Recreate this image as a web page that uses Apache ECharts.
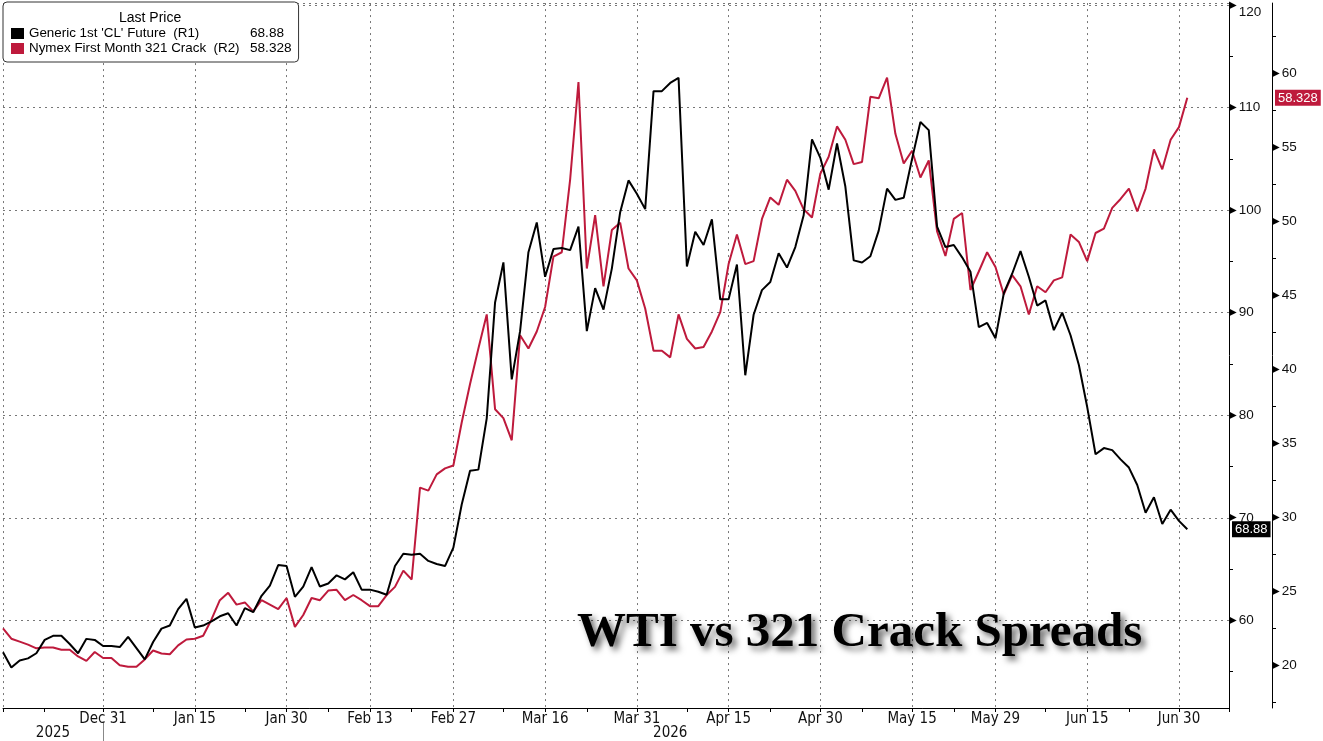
<!DOCTYPE html>
<html><head><meta charset="utf-8">
<script src="https://cdn.jsdelivr.net/npm/echarts@6/dist/echarts.min.js"></script>
<style>html,body{margin:0;padding:0;background:#fff}#c{width:1323px;height:741px}</style>
</head><body><div id="c"></div>
<script>
// Trading-day categories (weekdays)
const categories = [
'2025-12-15','2025-12-16','2025-12-17','2025-12-18','2025-12-19','2025-12-22','2025-12-23','2025-12-24','2025-12-25','2025-12-26','2025-12-29','2025-12-30','2025-12-31',
'2026-01-01','2026-01-02','2026-01-05','2026-01-06','2026-01-07','2026-01-08','2026-01-09','2026-01-12','2026-01-13','2026-01-14','2026-01-15','2026-01-16','2026-01-19','2026-01-20','2026-01-21','2026-01-22','2026-01-23','2026-01-26','2026-01-27','2026-01-28','2026-01-29','2026-01-30',
'2026-02-02','2026-02-03','2026-02-04','2026-02-05','2026-02-06','2026-02-09','2026-02-10','2026-02-11','2026-02-12','2026-02-13','2026-02-16','2026-02-17','2026-02-18','2026-02-19','2026-02-20','2026-02-23','2026-02-24','2026-02-25','2026-02-26','2026-02-27',
'2026-03-02','2026-03-03','2026-03-04','2026-03-05','2026-03-06','2026-03-09','2026-03-10','2026-03-11','2026-03-12','2026-03-13','2026-03-16','2026-03-17','2026-03-18','2026-03-19','2026-03-20','2026-03-23','2026-03-24','2026-03-25','2026-03-26','2026-03-27','2026-03-30','2026-03-31',
'2026-04-01','2026-04-02','2026-04-03','2026-04-06','2026-04-07','2026-04-08','2026-04-09','2026-04-10','2026-04-13','2026-04-14','2026-04-15','2026-04-16','2026-04-17','2026-04-20','2026-04-21','2026-04-22','2026-04-23','2026-04-24','2026-04-27','2026-04-28','2026-04-29','2026-04-30',
'2026-05-01','2026-05-04','2026-05-05','2026-05-06','2026-05-07','2026-05-08','2026-05-11','2026-05-12','2026-05-13','2026-05-14','2026-05-15','2026-05-18','2026-05-19','2026-05-20','2026-05-21','2026-05-22','2026-05-25','2026-05-26','2026-05-27','2026-05-28','2026-05-29',
'2026-06-01','2026-06-02','2026-06-03','2026-06-04','2026-06-05','2026-06-08','2026-06-09','2026-06-10','2026-06-11','2026-06-12','2026-06-15','2026-06-16','2026-06-17','2026-06-18','2026-06-19','2026-06-22','2026-06-23','2026-06-24','2026-06-25','2026-06-26','2026-06-29','2026-06-30',
'2026-07-01','2026-07-02','2026-07-03','2026-07-06','2026-07-07','2026-07-08'
];

const labelDates = ['2025-12-31','2026-01-15','2026-01-30','2026-02-13','2026-02-27','2026-03-16','2026-03-31','2026-04-15','2026-04-30','2026-05-15','2026-05-29','2026-06-15','2026-06-30'];
const minorTickDates = ['2025-12-15','2025-12-22','2026-01-08','2026-01-23','2026-02-06','2026-02-20','2026-03-09','2026-03-23','2026-04-08','2026-04-22','2026-05-07','2026-05-22','2026-06-08','2026-06-22','2026-07-08'];
const monthNames = ['Jan','Feb','Mar','Apr','May','Jun','Jul','Aug','Sep','Oct','Nov','Dec'];

const seriesNames = ["Generic 1st 'CL' Future  (R1)", "Nymex First Month 321 Crack  (R2)"];

// Generic 1st 'CL' Future (R1)
const wti = [
56.9,55.4,56.1,56.3,56.8,58.1,58.5,58.5,57.7,56.8,58.2,58.1,57.5,57.5,57.4,58.4,57.3,56.2,57.9,59.2,
59.5,61.1,62.1,59.3,59.5,59.9,60.4,60.7,59.5,61.2,60.8,62.4,63.4,65.4,65.3,62.3,63.3,65.2,63.3,63.6,
64.4,64.0,64.7,63.0,63.0,62.8,62.5,65.3,66.5,66.4,66.5,65.8,65.5,65.3,67.1,71.3,74.6,74.7,79.7,91.0,
94.9,83.5,88.2,95.9,98.8,93.5,96.2,96.3,96.1,98.4,88.2,92.4,90.3,94.3,99.8,102.9,101.6,100.1,111.6,111.6,
112.4,112.9,94.5,97.9,96.6,99.1,91.3,91.3,94.7,83.9,89.8,92.2,93.0,95.8,94.4,96.4,99.5,106.9,105.1,102.0,
106.5,102.3,95.1,94.9,95.5,98.0,102.1,101.0,101.2,105.0,108.6,107.8,98.4,96.4,96.6,95.4,94.0,88.6,89.0,87.5,
91.9,93.8,96.0,93.5,90.7,91.2,88.3,90.0,87.8,84.9,80.8,76.2,76.8,76.6,75.7,74.9,73.2,70.5,72.0,69.4,
70.8,69.7,68.88
];

// Nymex First Month 321 Crack (R2)
const crack = [
22.5,21.8,21.6,21.4,21.15,21.2,21.2,21.05,21.05,20.6,20.3,20.9,20.5,20.5,20.0,19.9,19.9,20.4,21.0,20.8,
20.75,21.35,21.75,21.8,22.0,23.1,24.4,24.9,24.1,24.25,23.65,24.4,24.1,23.8,24.55,22.6,23.4,24.55,24.4,25.05,
25.1,24.4,24.75,24.4,24.0,24.0,24.75,25.3,26.4,25.8,32.0,31.8,32.9,33.3,33.5,36.4,39.0,41.4,43.7,37.3,
36.7,35.2,42.3,41.4,42.55,44.2,47.6,47.9,52.8,59.4,46.8,50.4,45.6,49.4,49.9,46.8,46.0,44.1,41.25,41.25,
40.8,43.7,42.05,41.4,41.5,42.55,43.85,47.1,49.1,47.1,47.3,50.15,51.6,51.1,52.8,52.05,50.8,50.25,53.2,54.35,
56.4,55.5,53.85,54.0,58.4,58.3,59.7,55.9,53.9,54.75,52.95,54.1,49.3,47.65,50.15,50.55,45.35,46.6,47.9,46.9,
45.05,46.35,45.6,43.7,45.6,45.2,46.0,46.2,49.1,48.6,47.3,49.2,49.5,50.9,51.5,52.2,50.65,52.2,54.85,53.5,
55.5,56.35,58.328
];

const r1Range = [51.46, 120.19];
const r2Range = [17.12, 64.73];

const RED = '#be1a3c';
const labelSet = new Set(labelDates);
const tickSet = new Set(labelDates.concat(minorTickDates));
const fmtDate = v => { const p = v.split('-'); return monthNames[+p[1]-1] + ' ' + (+p[2]); };

// Year label positions: centre of each year's span, separator at last index of first year
const years = categories.map(d => d.slice(0,4));
const yearBoundary = years.lastIndexOf(years[0]);
const yearLabelIdx = [];
[...new Set(years)].forEach(y => {
  const a = years.indexOf(y), b = years.lastIndexOf(y);
  yearLabelIdx.push(Math.round((a + b) / 2));
});

const lastVals = {};
lastVals[seriesNames[0]] = String(wti[wti.length-1]);
lastVals[seriesNames[1]] = String(crack[crack.length-1]);

const SANS = 'Liberation Sans, Arial, sans-serif';
const NARROW = 'Liberation Sans Narrow, DejaVu Sans Condensed, sans-serif';
const grid = {type: [2, 4], color: '#777', width: 1};

// labels: small triangle marker at the axis followed by the value;
// a tick sitting right at the top edge gets its text nudged down so it stays visible
function yLabel(topTick) {
  return {
    showMinLabel: false, showMaxLabel: false, margin: 0,
    formatter: v => (v === topTick ? '{t|▶}{vt|' + v + '}' : '{t|▶}{v|' + v + '}'),
    rich: {
      t: {fontSize: 10, fontFamily: 'DejaVu Sans', color: '#000', padding: [0, 2, 0, 0]},
      v: {fontSize: 13.5, fontFamily: SANS, color: '#111'},
      vt: {fontSize: 13.5, fontFamily: SANS, color: '#111', padding: [14, 0, 0, 0]}
    }
  };
}

const chart = echarts.init(document.getElementById('c'));
chart.setOption({
  animation: false,
  backgroundColor: '#fff',
  title: [
    {text: 'Last Price', left: 119, top: 11, padding: 0, z: 10,
     textStyle: {fontFamily: SANS, fontSize: 14, fontWeight: 'normal', color: '#000'}},
    {text: 'WTI vs 321 Crack Spreads', left: 577, top: 609, padding: 0,
     textStyle: {fontFamily: 'Liberation Serif, Times New Roman, serif', fontSize: 49, fontWeight: 'bold', color: '#000',
       textShadowColor: 'rgba(0,0,0,0.6)', textShadowBlur: 6, textShadowOffsetX: 4, textShadowOffsetY: 4}}
  ],
  legend: {
    left: 3, top: 2, orient: 'vertical', selectedMode: false,
    padding: [24, 7, 6, 8], itemGap: 0, itemWidth: 13, itemHeight: 11, icon: 'rect',
    backgroundColor: '#fff', borderColor: '#333', borderWidth: 1, borderRadius: 4,
    data: seriesNames,
    formatter: name => '{n|' + name + '}{v|' + lastVals[name] + '}',
    textStyle: {
      lineHeight: 15,
      rich: {
        n: {width: 221, fontSize: 13.4, fontFamily: SANS, color: '#000', lineHeight: 15},
        v: {fontSize: 13.6, fontFamily: SANS, color: '#000', lineHeight: 15}
      }
    }
  },
  grid: {left: 3, right: 94, top: 0, bottom: 33, containLabel: false},
  xAxis: [
    {
      type: 'category', data: categories, boundaryGap: false,
      axisLine: {show: true, lineStyle: {color: '#000', width: 1}},
      axisTick: {show: true, interval: (i, v) => tickSet.has(v), length: 4, lineStyle: {color: '#000'}},
      axisLabel: {interval: (i, v) => labelSet.has(v), formatter: fmtDate, margin: 4,
        fontFamily: NARROW, fontSize: 15, color: '#111'},
      splitLine: {show: true, interval: (i, v) => labelSet.has(v) || i === 0, lineStyle: grid}
    },
    {
      type: 'category', data: categories, boundaryGap: false, position: 'bottom', offset: 14,
      axisLine: {show: false},
      axisTick: {show: true, interval: i => i === yearBoundary, length: 20, lineStyle: {color: '#888'}},
      axisLabel: {interval: i => yearLabelIdx.includes(i), formatter: v => v.slice(0, 4), margin: 4,
        fontFamily: NARROW, fontSize: 15, color: '#111'},
      splitLine: {show: false}
    }
  ],
  yAxis: [
    {
      type: 'value', position: 'right', min: r1Range[0], max: r1Range[1], splitNumber: 7, scale: true,
      axisLine: {show: true, lineStyle: {color: '#000'}},
      axisTick: {show: false},
      minorTick: {show: true, splitNumber: 2, length: 4, lineStyle: {color: '#000'}},
      minorSplitLine: {show: false},
      axisLabel: yLabel(Math.floor(r1Range[1] / 10) * 10),
      splitLine: {show: true, lineStyle: grid},
      axisPointer: {
        show: true, status: 'show', value: wti[wti.length-1], triggerTooltip: false,
        lineStyle: {opacity: 0}, type: 'line',
        label: {show: true, formatter: () => lastVals[seriesNames[0]], backgroundColor: '#000', color: '#fff',
          fontFamily: SANS, fontSize: 13, padding: [2, 3, 1, 3], margin: 3, borderRadius: 0}
      }
    },
    {
      type: 'value', position: 'right', offset: 43, min: r2Range[0], max: r2Range[1], splitNumber: 9, scale: true,
      axisLine: {show: true, lineStyle: {color: '#000'}},
      axisTick: {show: false},
      minorTick: {show: true, splitNumber: 2, length: 4, lineStyle: {color: '#000'}},
      axisLabel: yLabel(null),
      splitLine: {show: false},
      axisPointer: {
        show: true, status: 'show', value: crack[crack.length-1], triggerTooltip: false,
        lineStyle: {opacity: 0}, type: 'line',
        label: {show: true, formatter: () => lastVals[seriesNames[1]], backgroundColor: RED, color: '#fff',
          fontFamily: SANS, fontSize: 13, padding: [2, 3, 1, 3], margin: 3, borderRadius: 0}
      }
    }
  ],
  series: [
    {name: seriesNames[0], type: 'line', xAxisIndex: 0, yAxisIndex: 0, data: wti, symbol: 'none', showSymbol: false,
     lineStyle: {color: '#000', width: 2}, itemStyle: {color: '#000'}, z: 3},
    {name: seriesNames[1], type: 'line', xAxisIndex: 0, yAxisIndex: 1, data: crack, symbol: 'none', showSymbol: false,
     lineStyle: {color: RED, width: 2}, itemStyle: {color: RED}, z: 2}
  ]
});
</script>
</body></html>
